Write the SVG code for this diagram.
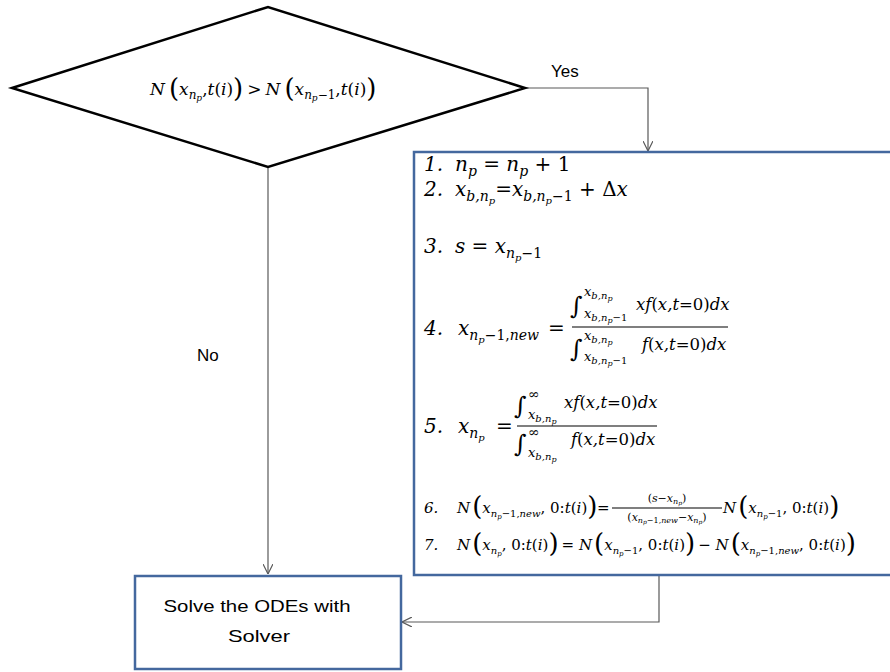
<svg xmlns="http://www.w3.org/2000/svg" width="890" height="672" viewBox="0 0 890 672">
<style>
.m{font-family:"DejaVu Serif","Liberation Serif",serif;font-style:italic;fill:#000}
.u{font-style:normal}
.bp{font-style:normal;font-size:26px}
.lbl{font-family:"Liberation Sans","Open Sans",sans-serif;font-size:17px;fill:#000}
.box{fill:#fff;stroke:#44689e;stroke-width:2.5}
.dia{fill:#fff;stroke:#000;stroke-width:2.5}
.conn{fill:none;stroke:#595959;stroke-width:1.2}
.bar{stroke:#000;stroke-width:1.2}
</style>
<defs>
<marker id="arr" viewBox="0 0 10 10" refX="10" refY="5" markerWidth="10" markerHeight="10" markerUnits="userSpaceOnUse" orient="auto">
<path d="M0,0 L10,5 L0,10" fill="none" stroke="#595959" stroke-width="1.2"/>
</marker>
</defs>
<rect width="890" height="672" fill="#fff"/>

<g id="connectors">
<path class="conn" d="M525,88 H648 V151" marker-end="url(#arr)"/>
<path class="conn" d="M268,167 V574" marker-end="url(#arr)"/>
<path class="conn" d="M659,576 V622 H402" marker-end="url(#arr)"/>
<text class="lbl" x="551" y="77">Yes</text>
<text class="lbl" x="197" y="361">No</text>
</g>

<g id="decision">
<polygon class="dia" points="12,88 268,7 525,88 268,167"/>
<text class="m" x="150" y="95" font-size="17">N<tspan class="bp" dx="4" dy="2">(</tspan><tspan dy="-2">x</tspan><tspan font-size="12" dy="4">n</tspan><tspan font-size="9" dy="2">p</tspan><tspan class="u" dy="-6">,</tspan>t<tspan class="u">(</tspan>i<tspan class="u">)</tspan><tspan class="bp" dy="2">)</tspan><tspan class="u" dy="-2" dx="4">&gt;</tspan><tspan dx="4">N</tspan><tspan class="bp" dx="4" dy="2">(</tspan><tspan dy="-2">x</tspan><tspan font-size="12" dy="4">n</tspan><tspan font-size="9" dy="2">p</tspan><tspan class="u" font-size="12" dy="-2">−1</tspan><tspan class="u" dy="-4">,</tspan>t<tspan class="u">(</tspan>i<tspan class="u">)</tspan><tspan class="bp" dy="2">)</tspan></text>
</g>

<g id="update">
<rect class="box" x="414" y="152" width="490" height="423"/>
<g font-size="20">
<text class="m" x="424" y="171">1.</text>
<text class="m" x="455" y="171">n<tspan font-size="14" dy="5">p</tspan><tspan class="u" dy="-5"> = </tspan>n<tspan font-size="14" dy="5">p</tspan><tspan class="u" dy="-5"> + 1</tspan></text>
<text class="m" x="424" y="196">2.</text>
<text class="m" x="455" y="196">x<tspan font-size="14" dy="5">b,n</tspan><tspan font-size="10" dy="3">p</tspan><tspan class="u" dy="-8">=</tspan>x<tspan font-size="14" dy="5">b,n</tspan><tspan font-size="10" dy="3">p</tspan><tspan class="u" font-size="14" dy="-3">−1</tspan><tspan class="u" dy="-5"> + Δ</tspan>x</text>
<text class="m" x="424" y="253">3.</text>
<text class="m" x="455" y="253">s<tspan class="u"> = </tspan>x<tspan font-size="14" dy="5">n</tspan><tspan font-size="10" dy="3">p</tspan><tspan class="u" font-size="14" dy="-3">−1</tspan></text>

<text class="m" x="424" y="335">4.</text>
<text class="m" x="458" y="335">x<tspan font-size="14" dy="5">n</tspan><tspan font-size="10" dy="3">p</tspan><tspan class="u" font-size="14" dy="-3">−1,</tspan><tspan font-size="14">new</tspan></text>
<text class="m u" x="548" y="335">=</text>
<line class="bar" x1="572" y1="327" x2="728" y2="327"/>
<text class="m u" x="570" y="314" font-size="24">∫</text>
<text class="m" x="584" y="296" font-size="13">x<tspan font-size="10" dy="3">b,n</tspan><tspan font-size="8" dy="2">p</tspan></text>
<text class="m" x="584" y="318" font-size="13">x<tspan font-size="10" dy="3">b,n</tspan><tspan font-size="8" dy="2">p</tspan><tspan class="u" font-size="10" dy="-2">−1</tspan></text>
<text class="m" x="636" y="310" font-size="16.5">xf<tspan class="u">(</tspan>x,t<tspan class="u">=0)</tspan>dx</text>
<text class="m u" x="570" y="357" font-size="24">∫</text>
<text class="m" x="584" y="340" font-size="13">x<tspan font-size="10" dy="3">b,n</tspan><tspan font-size="8" dy="2">p</tspan></text>
<text class="m" x="584" y="361" font-size="13">x<tspan font-size="10" dy="3">b,n</tspan><tspan font-size="8" dy="2">p</tspan><tspan class="u" font-size="10" dy="-2">−1</tspan></text>
<text class="m" x="642" y="350" font-size="16.5">f<tspan class="u">(</tspan>x,t<tspan class="u">=0)</tspan>dx</text>

<text class="m" x="424" y="433">5.</text>
<text class="m" x="458" y="433">x<tspan font-size="14" dy="5">n</tspan><tspan font-size="10" dy="3">p</tspan></text>
<text class="m u" x="496" y="433">=</text>
<line class="bar" x1="517" y1="426" x2="657" y2="426"/>
<text class="m u" x="514" y="414" font-size="24">∫</text>
<text class="m u" x="528" y="399" font-size="14">∞</text>
<text class="m" x="528" y="419" font-size="13">x<tspan font-size="10" dy="3">b,n</tspan><tspan font-size="8" dy="2">p</tspan></text>
<text class="m" x="564" y="408" font-size="16.5">xf<tspan class="u">(</tspan>x,t<tspan class="u">=0)</tspan>dx</text>
<text class="m u" x="514" y="452" font-size="24">∫</text>
<text class="m u" x="528" y="437" font-size="14">∞</text>
<text class="m" x="528" y="457" font-size="13">x<tspan font-size="10" dy="3">b,n</tspan><tspan font-size="8" dy="2">p</tspan></text>
<text class="m" x="571" y="445" font-size="16.5">f<tspan class="u">(</tspan>x,t<tspan class="u">=0)</tspan>dx</text>
</g>

<g font-size="15">
<text class="m" x="424" y="513">6.</text>
<text class="m" x="457" y="513">N<tspan class="bp" font-size="22" dx="2" dy="2">(</tspan><tspan dy="-2">x</tspan><tspan font-size="10" dy="4">n</tspan><tspan font-size="7" dy="2">p</tspan><tspan class="u" font-size="10" dy="-2">−1,</tspan><tspan font-size="10">new</tspan><tspan class="u" dy="-4">, 0:</tspan>t<tspan class="u">(</tspan>i<tspan class="u">)</tspan><tspan class="bp" font-size="22" dy="2">)</tspan></text>
<text class="m u" x="597" y="513">=</text>
<line class="bar" x1="612" y1="508" x2="722" y2="508"/>
<text class="m" x="667" y="502" font-size="11" text-anchor="middle"><tspan class="u">(</tspan>s<tspan class="u">−</tspan>x<tspan font-size="8" dy="2">n</tspan><tspan font-size="6" dy="1">p</tspan><tspan class="u" dy="-3">)</tspan></text>
<text class="m" x="667" y="521" font-size="11" text-anchor="middle"><tspan class="u">(</tspan>x<tspan font-size="8" dy="2">n</tspan><tspan font-size="6" dy="1">p</tspan><tspan class="u" font-size="8" dy="-1">−1,</tspan><tspan font-size="8">new</tspan><tspan class="u" dy="-2">−</tspan>x<tspan font-size="8" dy="2">n</tspan><tspan font-size="6" dy="1">p</tspan><tspan class="u" dy="-3">)</tspan></text>
<text class="m" x="723" y="513">N<tspan class="bp" font-size="22" dx="2" dy="2">(</tspan><tspan dy="-2">x</tspan><tspan font-size="10" dy="4">n</tspan><tspan font-size="7" dy="2">p</tspan><tspan class="u" font-size="10" dy="-2">−1</tspan><tspan class="u" dy="-4">, 0:</tspan>t<tspan class="u">(</tspan>i<tspan class="u">)</tspan><tspan class="bp" font-size="22" dy="2">)</tspan></text>

<text class="m" x="424" y="550">7.</text>
<text class="m" x="457" y="550">N<tspan class="bp" font-size="22" dx="2" dy="2">(</tspan><tspan dy="-2">x</tspan><tspan font-size="10" dy="4">n</tspan><tspan font-size="7" dy="2">p</tspan><tspan class="u" dy="-6">, 0:</tspan>t<tspan class="u">(</tspan>i<tspan class="u">)</tspan><tspan class="bp" font-size="22" dy="2">)</tspan><tspan class="u" dy="-2" dx="3">= </tspan>N<tspan class="bp" font-size="22" dx="2" dy="2">(</tspan><tspan dy="-2">x</tspan><tspan font-size="10" dy="4">n</tspan><tspan font-size="7" dy="2">p</tspan><tspan class="u" font-size="10" dy="-2">−1</tspan><tspan class="u" dy="-4">, 0:</tspan>t<tspan class="u">(</tspan>i<tspan class="u">)</tspan><tspan class="bp" font-size="22" dy="2">)</tspan><tspan class="u" dy="-2" dx="3">− </tspan>N<tspan class="bp" font-size="22" dx="2" dy="2">(</tspan><tspan dy="-2">x</tspan><tspan font-size="10" dy="4">n</tspan><tspan font-size="7" dy="2">p</tspan><tspan class="u" font-size="10" dy="-2">−1,</tspan><tspan font-size="10">new</tspan><tspan class="u" dy="-4">, 0:</tspan>t<tspan class="u">(</tspan>i<tspan class="u">)</tspan><tspan class="bp" font-size="22" dy="2">)</tspan></text>
</g>
</g>

<g id="solve">
<rect class="box" x="135" y="576" width="266" height="93"/>
<text class="lbl" x="257" y="612" text-anchor="middle" font-size="20" textLength="187" lengthAdjust="spacingAndGlyphs">Solve the ODEs with</text>
<text class="lbl" x="259" y="642" text-anchor="middle" font-size="20" textLength="62" lengthAdjust="spacingAndGlyphs">Solver</text>
</g>
</svg>
